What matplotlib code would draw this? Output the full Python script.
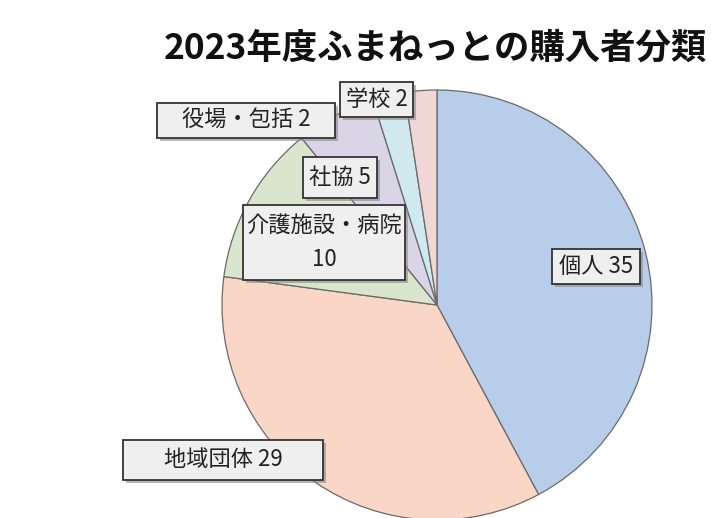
import matplotlib
matplotlib.use("Agg")
import matplotlib.pyplot as plt
import matplotlib.patheffects as pe
from matplotlib.patches import Rectangle

plt.rcParams['font.family'] = ['Noto Sans CJK JP', 'DejaVu Sans']

# data
labels = ["個人 35", "地域団体 29", "介護施設・病院\n10", "社協 5", "役場・包括 2", "学校 2"]
values = [35, 29, 10, 5, 2, 2]
colors = ["#b8cde9", "#fad6c6", "#d9e5cd", "#dad4e7", "#cfe9ef", "#f1d6d6"]

# label boxes in pixels (x0, y0, x1, y1 from top-left)
label_boxes = [(552, 249, 640, 284), (123, 440, 323, 480), (243, 205, 405, 280),
               (303, 157, 377, 198), (157, 103, 335, 138), (340, 82, 413, 117)]

W, H = 711, 518
cx, cy, r = 437, 305, 215

fig = plt.figure(figsize=(W / 100, H / 100), dpi=100)
ax = fig.add_axes([0, 0, 1, 1])

ax.pie(values, colors=colors, startangle=90, counterclock=False,
       wedgeprops=dict(edgecolor="#6a6a6a", linewidth=0.9))

ax.set_aspect("auto")
ax.set_xlim(-cx / r, (W - cx) / r)
ax.set_ylim(-(H - cy) / r, cy / r)
ax.axis("off")


def to_data(px, py):
    return (px - cx) / r, (cy - py) / r


for text, (x0, y0, x1, y1) in zip(labels, label_boxes):
    dx0, dy1 = to_data(x0, y1)
    box = Rectangle((dx0, dy1), (x1 - x0) / r, (y1 - y0) / r,
                    facecolor="#efefef", edgecolor="#333333", linewidth=1.3, zorder=3)
    box.set_path_effects([
        pe.SimplePatchShadow(offset=(2, -2), shadow_rgbFace="#888888", alpha=0.6),
        pe.Normal()])
    ax.add_patch(box)
    tx, ty = to_data((x0 + x1) / 2, (y0 + y1) / 2)
    ax.text(tx, ty, text, ha="center", va="center", fontsize=16,
            color="#222222", linespacing=1.65, zorder=4)

fig.text(435 / W, 1 - 48 / H, "2023年度ふまねっとの購入者分類", ha="center", va="center",
         fontsize=25.5, fontweight="bold", color="#111111")

fig.savefig("out.png", dpi=100)
